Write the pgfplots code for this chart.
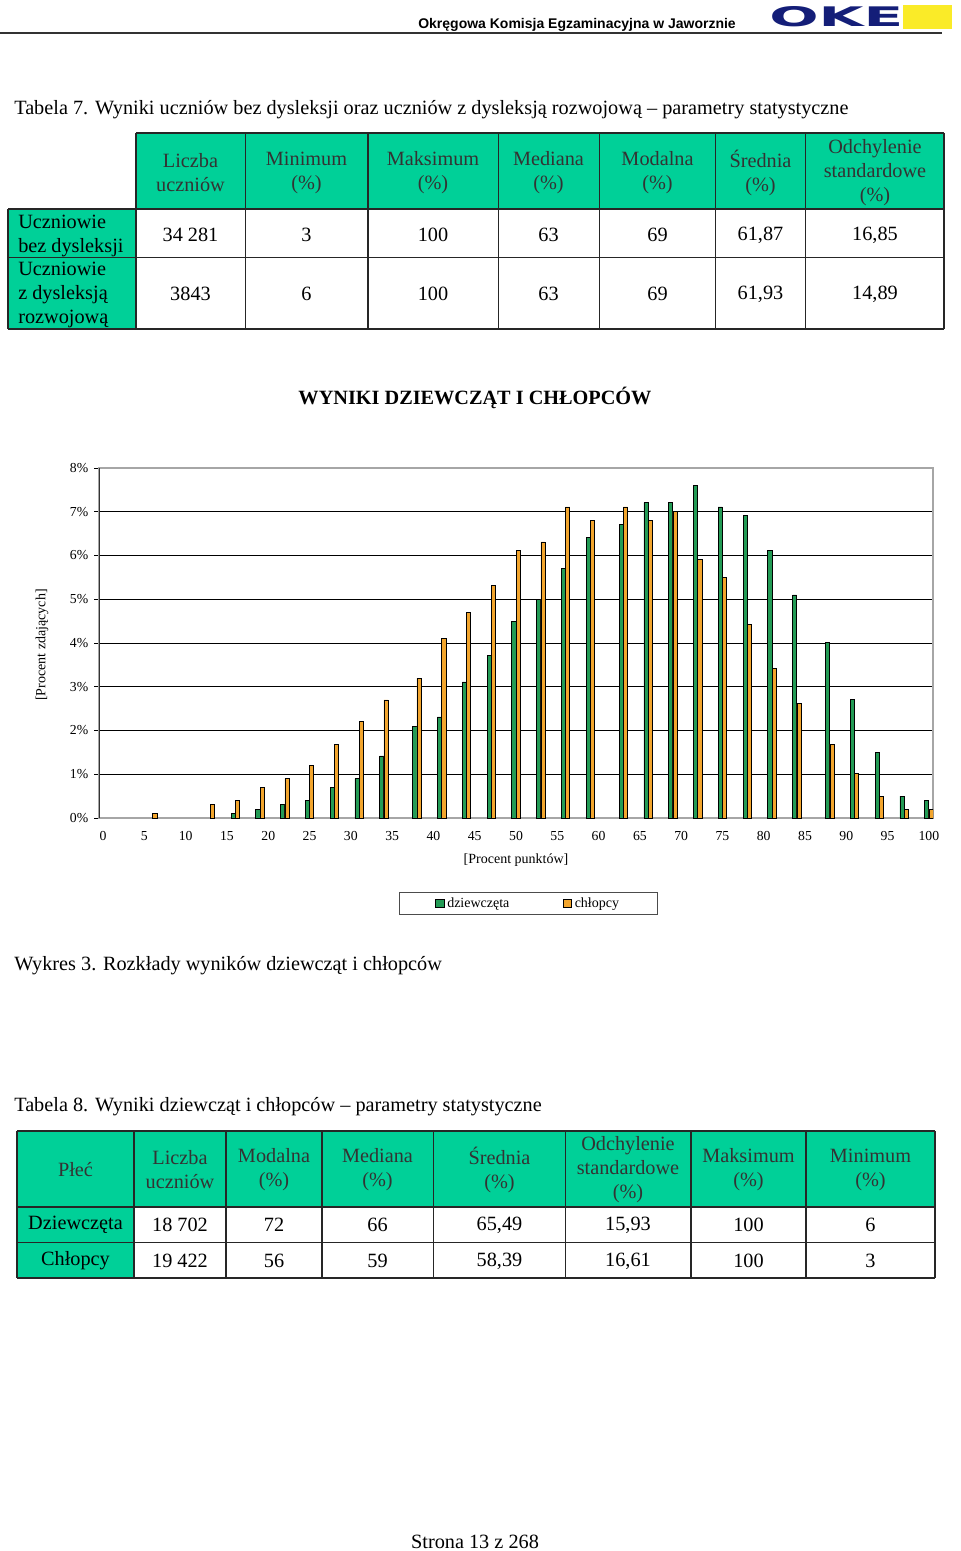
\documentclass[border=0pt]{standalone}
\usepackage{fontspec}
\setmainfont{Liberation Serif}
\newfontfamily\sansb{Liberation Sans}
\newfontfamily\logofont{DejaVu Sans}
\usepackage{pgfplots}
\pgfplotsset{compat=1.18}
\definecolor{hdr}{RGB}{0,208,152}
\definecolor{grn}{RGB}{35,155,85}
\definecolor{org}{RGB}{242,165,45}
\definecolor{navy}{RGB}{20,30,120}
\definecolor{ylw}{RGB}{250,235,40}
\newcommand\T{\fontsize{15.2}{18}\selectfont}
\begin{document}
\begin{tikzpicture}
\begin{scope}[x=0.75pt,y=-0.75pt, every node/.style={inner sep=0, font=\T}]
\path[use as bounding box] (0,0) rectangle (960,1551);
% page head
\draw[black!80, line width=1.1pt] (0,33) -- (942,33);
\node[anchor=east, font=\sansb\bfseries\fontsize{10.5}{12}\selectfont] at (736,25) {Okręgowa Komisja Egzaminacyjna w Jaworznie};
\fill[ylw] (903,5) rectangle (952,29);
\node[anchor=south west, text=navy] at (769,27) {\resizebox{100.5pt}{15pt}{\logofont\bfseries OKE}};
% Tabela 7
\node[anchor=west] at (14,110) {Tabela 7. Wyniki uczniów bez dysleksji oraz uczniów z dysleksją rozwojową – parametry statystyczne};
\fill[hdr] (136,133) rectangle (944,209);
\fill[hdr] (8,209) rectangle (136,329);
\draw[black!85, line width=0.9pt] (136,133) -- (944,133);
\foreach \yy in {209,257.5,329} \draw[black!85, line width=0.9pt] (8,\yy) -- (944,\yy);
\draw[black!85, line width=0.9pt] (8,209) -- (8,329);
\foreach \xx in {136,245.5,368,498.5,599.5,715.5,805.5,944} \draw[black!85, line width=0.9pt] (\xx,133) -- (\xx,329);
\foreach \xx/\tt in {190.5/{Liczba\\uczniów},306.5/{Minimum\\(\%)},433/{Maksimum\\(\%)},548.5/{Mediana\\(\%)},657.5/{Modalna\\(\%)},760.5/{Średnia\\(\%)},875/{Odchylenie\\standardowe\\(\%)}}
  \node[align=center, text=black!80] at (\xx,172.5) {\tt};
\node[anchor=west, align=left] at (18,236) {Uczniowie\\bez dysleksji};
\node[anchor=west, align=left] at (18,295) {Uczniowie\\z dysleksją\\rozwojową};
\foreach \xx/\a/\b in {190.5/34 281/3843,306.5/3/6,433/100/100,548.5/63/63,657.5/69/69,760.5/{61,87}/{61,93},875/{16,85}/{14,89}}{
  \node at (\xx,235) {\a};
  \node at (\xx,294) {\b};
}
% chart title and caption
\node[font=\T\bfseries] at (475,398) {WYNIKI DZIEWCZĄT I CHŁOPCÓW};
\node[anchor=west] at (14,966) {Wykres 3. Rozkłady wyników dziewcząt i chłopców};
% Tabela 8
\node[anchor=west] at (14,1107) {Tabela 8. Wyniki dziewcząt i chłopców – parametry statystyczne};
\fill[hdr] (17,1131) rectangle (935,1207);
\fill[hdr] (17,1207) rectangle (134,1278);
\foreach \yy in {1131,1207,1242.5,1278} \draw[black!85, line width=0.9pt] (17,\yy) -- (935,\yy);
\foreach \xx in {17,134,226,322,433.5,565.5,691,806,935} \draw[black!85, line width=0.9pt] (\xx,1131) -- (\xx,1278);
\foreach \xx/\tt in {75.5/{Płeć},180/{Liczba\\uczniów},274/{Modalna\\(\%)},377.5/{Mediana\\(\%)},499.5/{Średnia\\(\%)},628/{Odchylenie\\standardowe\\(\%)},748.5/{Maksimum\\(\%)},870.5/{Minimum\\(\%)}}
  \node[align=center, text=black!80] at (\xx,1170) {\tt};
\foreach \xx/\a/\b in {75.5/Dziewczęta/Chłopcy,180/18 702/19 422,274/72/56,377.5/66/59,499.5/{65,49}/{58,39},628/{15,93}/{16,61},748.5/100/100,870.5/6/3}{
  \node at (\xx,1225) {\a};
  \node at (\xx,1261) {\b};
}
\node at (475,1542) {Strona 13 z 268};
\end{scope}

\begin{axis}[
  at={(74.25pt,-613.5pt)}, anchor=south west,
  scale only axis, width=625.5pt, height=262.5pt,
  xmin=-0.5, xmax=100.5, ymin=0, ymax=8,
  xtick={0,5,...,100}, ytick={0,1,...,8},
  yticklabel={\pgfmathprintnumber{\tick}\%},
  /pgf/number format/assume math mode=true,
  ymajorgrids, grid style={black, line width=0.6pt},
  axis line style={gray!70, line width=0.8pt},
  tick label style={font=\fontsize{10.3}{12}\selectfont},
  xtick style={draw=none}, ytick pos=left,
  ytick style={black, line width=0.6pt}, tick align=outside, major tick length=3.5pt,
  xticklabel style={yshift=-3pt},
  yticklabel style={xshift=-1pt},
  xlabel={[Procent punktów]}, ylabel={[Procent zdających]},
  label style={font=\fontsize{10.5}{12}\selectfont},
  xlabel style={at={(axis description cs:0.5,-0.12)}, anchor=center},
  ylabel style={at={(axis description cs:-0.0683,0.494)}, anchor=center},
  legend columns=2,
  legend style={at={(axis description cs:0.515,-0.2443)}, anchor=center,
    draw=black!70, line width=0.6pt, inner xsep=27pt, inner ysep=2pt,
    font=\fontsize{10.5}{12}\selectfont,
    /tikz/every even column/.append style={column sep=38pt}},
  legend image code/.code={\draw[#1,draw=black,line width=0.5pt] (0pt,-3pt) rectangle (6.5pt,3.5pt);},
]
\draw[black!80, line width=0.8pt] (rel axis cs:0,0) -- (rel axis cs:0,1);
\addplot[ybar, bar width=0.5, bar shift=-0.26, fill=grn, draw=black, line width=0.5pt] coordinates {
 (16,0.10) (19,0.19) (22,0.31) (25,0.40) (28,0.70) (31,0.90) (34,1.42)
 (38,2.09) (41,2.31) (44,3.11) (47,3.71) (50,4.50) (53,5.00) (56,5.71)
 (59,6.41) (63,6.71) (66,7.21) (69,7.21) (72,7.61) (75,7.11) (78,6.91)
 (81,6.11) (84,5.10) (88,4.01) (91,2.71) (94,1.50) (97,0.50) (100,0.40)
};
\addlegendentry{dziewczęta}
\addplot[ybar, bar width=0.5, bar shift=0.26, fill=org, draw=black, line width=0.5pt] coordinates {
 (6,0.10) (13,0.31) (16,0.40) (19,0.70) (22,0.90) (25,1.20) (28,1.69)
 (31,2.21) (34,2.70) (38,3.20) (41,4.11) (44,4.69) (47,5.31) (50,6.11)
 (53,6.31) (56,7.11) (59,6.80) (63,7.11) (66,6.80) (69,7.01) (72,5.92)
 (75,5.50) (78,4.42) (81,3.41) (84,2.61) (88,1.69) (91,1.01) (94,0.50)
 (97,0.20) (100,0.20)
};
\addlegendentry{chłopcy}
\end{axis}
\end{tikzpicture}
\end{document}
